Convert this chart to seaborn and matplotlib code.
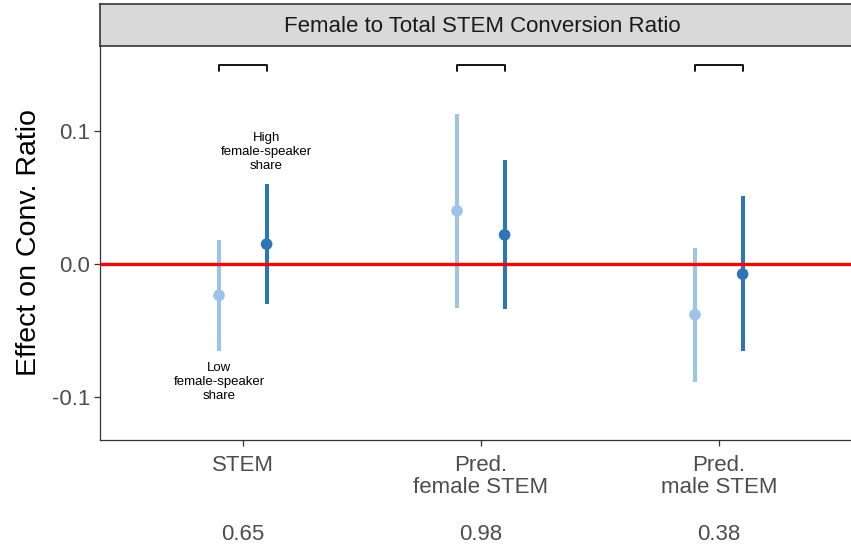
import matplotlib
matplotlib.use("Agg")
import matplotlib.pyplot as plt
import seaborn as sns
import pandas as pd
import numpy as np

# ---- data ----
categories = ["STEM", "Pred.\nfemale STEM", "Pred.\nmale STEM"]
groups = ["Low female-speaker share", "High female-speaker share"]
low_est = [-0.0235, 0.040, -0.038]
low_lo = [-0.065, -0.033, -0.089]
low_hi = [0.018, 0.113, 0.012]
high_est = [0.015, 0.022, -0.0075]
high_lo = [-0.030, -0.034, -0.065]
high_hi = [0.060, 0.078, 0.051]
p_values = ["0.65", "0.98", "0.38"]
yticks = [-0.1, 0.0, 0.1]
ytick_labels = ["-0.1", "0.0", "0.1"]
title = "Female to Total STEM Conversion Ratio"
ylabel = "Effect on Conv. Ratio"

colors = {groups[0]: "#9DC3E6", groups[1]: "#2E75B6"}
dodge = {groups[0]: -0.1, groups[1]: 0.1}

rows = []
for i, c in enumerate(categories):
    rows.append(dict(cat=c, idx=i + 1, group=groups[0], est=low_est[i], lo=low_lo[i], hi=low_hi[i]))
    rows.append(dict(cat=c, idx=i + 1, group=groups[1], est=high_est[i], lo=high_lo[i], hi=high_hi[i]))
df = pd.DataFrame(rows)
df["x"] = df["idx"] + df["group"].map(dodge)

sns.set_theme(style="white")
plt.rcParams["font.family"] = ["Liberation Sans", "DejaVu Sans"]

fig = plt.figure(figsize=(8.51, 5.5), dpi=100)
W, H = 851, 550
ax_left, ax_right, ax_top, ax_bot = 100, 861.6, 46, 440
ax = fig.add_axes([ax_left / W, 1 - ax_bot / H, (ax_right - ax_left) / W, (ax_bot - ax_top) / H])

# error bars
for g in groups:
    sub = df[df["group"] == g]
    ax.vlines(sub["x"], sub["lo"], sub["hi"], color=colors[g], lw=2.9, zorder=2)
sns.scatterplot(data=df, x="x", y="est", hue="group", palette=colors, s=70,
                edgecolor="none", legend=False, ax=ax, zorder=3)

ax.axhline(0, color="#FF0000", lw=2.4, zorder=4)

# brackets
for i in range(len(categories)):
    xl = i + 1 + dodge[groups[0]]
    xr = i + 1 + dodge[groups[1]]
    ax.plot([xl, xl, xr, xr], [0.1452, 0.1497, 0.1497, 0.1452], color="black", lw=1.3, zorder=3)

# annotations
ax.text(1 + dodge[groups[1]], 0.0845, "High\nfemale-speaker\nshare", ha="center", va="center",
        fontsize=9.5, linespacing=1.2, color="black")
ax.text(1 + dodge[groups[0]], -0.0885, "Low\nfemale-speaker\nshare", ha="center", va="center",
        fontsize=9.5, linespacing=1.2, color="black")

# p-values under the ticks
for i, p in enumerate(p_values):
    ax.text(i + 1, -0.241, p, transform=ax.get_xaxis_transform(), ha="center", va="center",
            fontsize=16, color="#4D4D4D")

ax.set_xlim(0.4, 3.6)
ax.set_ylim(-0.1323, 0.1640)
ax.set_xticks(range(1, len(categories) + 1))
ax.set_xticklabels(categories, fontsize=16, color="#4D4D4D", linespacing=1.05)
ax.set_yticks(yticks)
ax.set_yticklabels(ytick_labels, fontsize=16, color="#4D4D4D")
ax.set_xlabel("")
ax.set_ylabel(ylabel, fontsize=20.5, color="black", labelpad=7)
ax.tick_params(axis="both", length=4, width=0.9, color="#333333", pad=3, left=True, bottom=True)
ax.tick_params(axis="x", pad=7)
for s in ["top", "right"]:
    ax.spines[s].set_visible(False)
for s in ["left", "bottom"]:
    ax.spines[s].set_color("#333333")
    ax.spines[s].set_linewidth(0.9)
ax.set_facecolor("white")

# facet strip
strip = fig.add_axes([ax_left / W, 1 - ax_top / H, (ax_right - ax_left) / W, (ax_top - 4) / H])
strip.set_facecolor("#D9D9D9")
strip.set_xticks([])
strip.set_yticks([])
for s in strip.spines.values():
    s.set_color("#333333")
    s.set_linewidth(1.2)
fig.text(482 / W, 1 - 26 / H, title, ha="center", va="center", fontsize=16, color="#1A1A1A")

fig.savefig("out.png", dpi=100)
